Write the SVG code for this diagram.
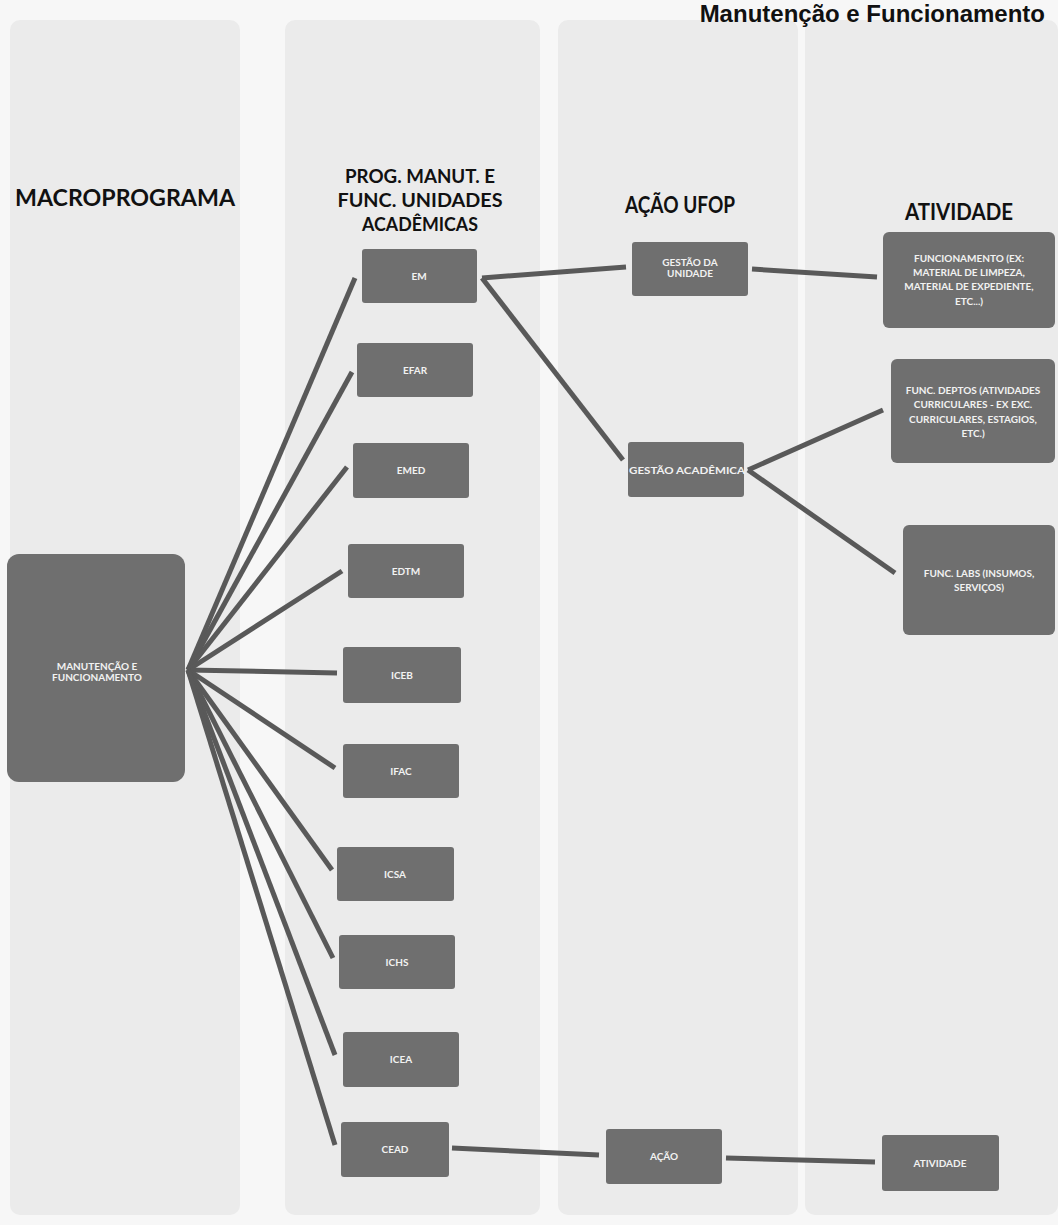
<svg xmlns="http://www.w3.org/2000/svg" width="1058" height="1225" viewBox="0 0 1058 1225">
<defs>
<style>
.bg{fill:#f7f7f7}
.panel{fill:#ebebeb}
.node rect{fill:#6f6f6f}
.lbl{font-family:Lato,"Liberation Sans",sans-serif;font-weight:bold;font-size:10px;fill:#f2f2f2;text-anchor:middle}
.hdr{font-family:Lato,"Liberation Sans",sans-serif;font-weight:bold;font-size:22px;fill:#111;text-anchor:middle}
.hdr2{font-family:Lato,"Liberation Sans",sans-serif;font-weight:bold;font-size:19px;fill:#111;text-anchor:middle}
.title{font-family:"Liberation Sans",sans-serif;font-weight:bold;font-size:24px;fill:#111;text-anchor:end}
#connectors line{stroke:#595959;stroke-width:5;stroke-linecap:butt}
</style>
</defs>
<rect class="bg" x="0" y="0" width="1058" height="1225"/>
<g id="panels">
<rect class="panel" x="10" y="20" width="230" height="1195" rx="10"/>
<rect class="panel" x="285" y="20" width="255" height="1195" rx="10"/>
<rect class="panel" x="558" y="20" width="240" height="1195" rx="10"/>
<rect class="panel" x="805" y="20" width="253" height="1195" rx="10"/>
</g>
<text class="title" x="1045" y="22">Manutenção e Funcionamento</text>
<g id="headers">
<text class="hdr" x="125" y="206" textLength="220" lengthAdjust="spacingAndGlyphs">MACROPROGRAMA</text>
<text class="hdr2" x="420" y="183" textLength="150" lengthAdjust="spacingAndGlyphs">PROG. MANUT. E</text>
<text class="hdr2" x="420" y="207" textLength="165" lengthAdjust="spacingAndGlyphs">FUNC. UNIDADES</text>
<text class="hdr2" x="420" y="231" textLength="116" lengthAdjust="spacingAndGlyphs">ACADÊMICAS</text>
<text class="hdr" x="680" y="213" textLength="110" lengthAdjust="spacingAndGlyphs">AÇÃO UFOP</text>
<text class="hdr" x="959" y="220" textLength="108" lengthAdjust="spacingAndGlyphs">ATIVIDADE</text>
</g>
<g id="connectors">
<line x1="188" y1="670" x2="355" y2="278"/>
<line x1="188" y1="670" x2="352" y2="372"/>
<line x1="188" y1="670" x2="347" y2="467"/>
<line x1="188" y1="670" x2="342" y2="571"/>
<line x1="188" y1="670" x2="337" y2="673"/>
<line x1="188" y1="670" x2="335" y2="768"/>
<line x1="188" y1="670" x2="332" y2="870"/>
<line x1="188" y1="670" x2="333" y2="958"/>
<line x1="188" y1="670" x2="335" y2="1055"/>
<line x1="188" y1="670" x2="335" y2="1145"/>
<line x1="482" y1="278" x2="626" y2="267"/>
<line x1="482" y1="278" x2="623" y2="460"/>
<line x1="752" y1="269" x2="877" y2="277"/>
<line x1="748" y1="470" x2="883" y2="410"/>
<line x1="748" y1="470" x2="895" y2="573"/>
<line x1="452" y1="1148" x2="599" y2="1155"/>
<line x1="726" y1="1158" x2="875" y2="1162"/>
</g>
<g id="n-manut" class="node"><rect x="7" y="554" width="178" height="228" rx="12"/>
<text class="lbl" x="97" y="670">MANUTENÇÃO E</text><text class="lbl" x="97" y="681">FUNCIONAMENTO</text></g>
<g id="n-em" class="node"><rect x="362" y="249" width="115" height="54" rx="3"/><text class="lbl" x="419" y="280">EM</text></g>
<g id="n-efar" class="node"><rect x="357" y="343" width="116" height="54" rx="3"/><text class="lbl" x="415" y="374">EFAR</text></g>
<g id="n-emed" class="node"><rect x="353" y="443" width="116" height="55" rx="3"/><text class="lbl" x="411" y="474">EMED</text></g>
<g id="n-edtm" class="node"><rect x="348" y="544" width="116" height="54" rx="3"/><text class="lbl" x="406" y="575">EDTM</text></g>
<g id="n-iceb" class="node"><rect x="343" y="647" width="118" height="56" rx="3"/><text class="lbl" x="402" y="679">ICEB</text></g>
<g id="n-ifac" class="node"><rect x="343" y="744" width="116" height="54" rx="3"/><text class="lbl" x="401" y="775">IFAC</text></g>
<g id="n-icsa" class="node"><rect x="337" y="847" width="117" height="54" rx="3"/><text class="lbl" x="395" y="878">ICSA</text></g>
<g id="n-ichs" class="node"><rect x="339" y="935" width="116" height="54" rx="3"/><text class="lbl" x="397" y="966">ICHS</text></g>
<g id="n-icea" class="node"><rect x="343" y="1032" width="116" height="55" rx="3"/><text class="lbl" x="401" y="1063">ICEA</text></g>
<g id="n-cead" class="node"><rect x="341" y="1122" width="108" height="55" rx="3"/><text class="lbl" x="395" y="1153">CEAD</text></g>
<g id="n-gu" class="node"><rect x="632" y="242" width="116" height="54" rx="3"/>
<text class="lbl" x="690" y="266">GESTÃO DA</text><text class="lbl" x="690" y="277">UNIDADE</text></g>
<g id="n-ga" class="node"><rect x="628" y="442" width="116" height="55" rx="3"/>
<text class="lbl" x="687" y="474" textLength="116" lengthAdjust="spacingAndGlyphs">GESTÃO ACADÊMICA</text></g>
<g id="n-func" class="node"><rect x="883" y="232" width="172" height="96" rx="6"/>
<text class="lbl" x="969" y="262">FUNCIONAMENTO (EX:</text>
<text class="lbl" x="969" y="276">MATERIAL DE LIMPEZA,</text>
<text class="lbl" x="969" y="290">MATERIAL DE EXPEDIENTE,</text>
<text class="lbl" x="969" y="305">ETC...)</text></g>
<g id="n-deptos" class="node"><rect x="891" y="359" width="164" height="104" rx="6"/>
<text class="lbl" x="973" y="394">FUNC. DEPTOS (ATIVIDADES</text>
<text class="lbl" x="973" y="408">CURRICULARES - EX EXC.</text>
<text class="lbl" x="973" y="423">CURRICULARES, ESTAGIOS,</text>
<text class="lbl" x="973" y="437">ETC.)</text></g>
<g id="n-labs" class="node"><rect x="903" y="525" width="152" height="110" rx="6"/>
<text class="lbl" x="979" y="577">FUNC. LABS (INSUMOS,</text>
<text class="lbl" x="979" y="591">SERVIÇOS)</text></g>
<g id="n-acao" class="node"><rect x="606" y="1129" width="116" height="55" rx="3"/><text class="lbl" x="664" y="1160">AÇÃO</text></g>
<g id="n-ativ" class="node"><rect x="882" y="1135" width="117" height="56" rx="3"/><text class="lbl" x="940" y="1167">ATIVIDADE</text></g>
</svg>
